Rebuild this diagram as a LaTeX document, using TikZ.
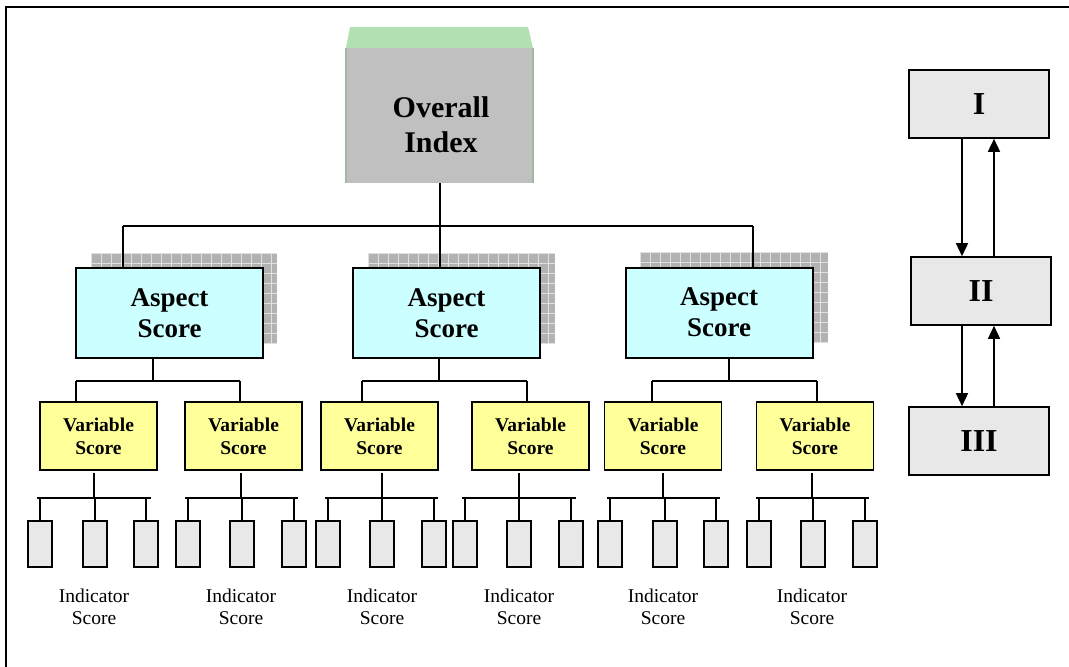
\documentclass[tikz,border=0pt]{standalone}
\usepackage{fontspec}
\setmainfont{Liberation Serif}
\usetikzlibrary{arrows.meta}
\definecolor{ovgray}{RGB}{192,192,192}
\definecolor{ovgreen}{RGB}{178,224,178}
\definecolor{ovside}{RGB}{160,184,160}
\definecolor{aspfill}{RGB}{204,255,255}
\definecolor{varfill}{RGB}{255,255,153}
\definecolor{indfill}{RGB}{232,232,232}
\definecolor{shfill}{RGB}{178,178,178}
\definecolor{shline}{RGB}{225,225,225}
\newcommand\gridshadow[4]{%
  \begin{scope}
    \clip (#1,#2) rectangle (#3,#4);
    \fill[shfill] (#1,#2) rectangle (#3,#4);
    \foreach \k in {0,10,...,200}{
      \draw[shline,line width=0.8pt] (#1+\k,#2) -- (#1+\k,#4);
    }
    \foreach \k in {0,10,...,100}{
      \draw[shline,line width=0.8pt] (#1,#2+\k) -- (#3,#2+\k);
    }
  \end{scope}}
\begin{document}
\begin{tikzpicture}[x=1pt,y=-1pt,
  conn/.style={line width=2pt},
  aspbox/.style={draw=black,line width=2pt,fill=aspfill,minimum width=187pt,minimum height=90pt,inner sep=0pt,align=center,font=\bfseries\fontsize{27}{31}\selectfont},
  varbox/.style={draw=black,line width=1.6pt,fill=varfill,minimum width=117pt,minimum height=68pt,inner sep=0pt,align=center,font=\bfseries\fontsize{19.5}{23}\selectfont},
  indbox/.style={draw=black,line width=1.6pt,fill=indfill,minimum width=24pt,minimum height=46pt,inner sep=0pt},
  indlabel/.style={align=center,inner sep=0pt,font=\fontsize{19.5}{22.5}\selectfont},
  rbox/.style={draw=black,line width=1.6pt,fill=indfill,minimum width=140pt,minimum height=68pt,inner sep=0pt,font=\bfseries\fontsize{32}{36}\selectfont},
  arr/.style={line width=1.5pt,-{Triangle[length=13pt,width=12pt]}}]
\useasboundingbox (0,0) rectangle (1069,667);
% outer frame (top and left edges)
\draw[line width=2pt] (1069,7) -- (6,7) -- (6,667);

% overall index
\fill[ovgreen] (350,27) -- (528,27) -- (533,48) -- (346,48) -- cycle;
\node[fill=ovgray,minimum width=187pt,minimum height=135pt,inner sep=0pt] (o) at (439.5,115.5) {};
\node[align=center,inner sep=0pt,font=\bfseries\fontsize{30}{35}\selectfont] (ot) at (441,125) {Overall\\Index};
\draw[ovside,line width=1.5pt] (o.north west) -- (o.south west);
\draw[ovside,line width=1.5pt] (o.north east) -- (o.south east);

% shadows
\gridshadow{91}{253}{277}{343}
\gridshadow{368}{253}{555}{343}
\gridshadow{640}{252}{828}{342}

% aspect boxes
\node[aspbox] (a1) at (169.5,313) {Aspect\\Score};
\node[aspbox] (a2) at (446.5,313) {Aspect\\Score};
\node[aspbox] (a3) at (719,312.5) {Aspect\\Score};

% top bus
\coordinate (bL) at (123,226);
\coordinate (bM) at (439.5,226);
\coordinate (bR) at (753,226);
\draw[conn] (o.south) -- (bM);
\draw[conn] (bL) -- (bR);
\draw[conn] (bL) -- (bL |- a1.north);
\draw[conn] (bM) -- (bM |- a2.north);
\draw[conn] (bR) -- (bR |- a3.north);

% variable boxes
\node[varbox] (v1) at (98.5,436) {Variable\\Score};
\node[varbox] (v2) at (243.5,436) {Variable\\Score};
\node[varbox] (v3) at (379.5,436) {Variable\\Score};
\node[varbox] (v4) at (530.5,436) {Variable\\Score};
\node[varbox] (v5) at (663,436) {Variable\\Score};
\node[varbox] (v6) at (815,436) {Variable\\Score};

% aspect -> variable buses
\foreach \a/\d/\l/\r/\vl/\vr in {a1/153/76/240/v1/v2, a2/439/362/527/v3/v4, a3/729/652/817/v5/v6}{
  \coordinate (j\a) at (\d,381);
  \coordinate (jl\a) at (\l,381);
  \coordinate (jr\a) at (\r,381);
  \draw[conn] (\a.south -| j\a) -- (j\a);
  \draw[conn] (jl\a) -- (jr\a);
  \draw[conn] (jl\a) -- (jl\a |- \vl.north);
  \draw[conn] (jr\a) -- (jr\a |- \vr.north);
}

% variable -> indicator groups
\foreach \g/\xv/\hl/\hr/\pa/\pb/\pc in {1/94/37/151/40/95/146, 2/241/185/298/188/242/294, 3/382/325/438/328/382/434, 4/519/462/576/465/519/571, 5/663/607/720/610/665/716, 6/812/756/869/759/813/865}{
  \coordinate (s\g) at (\xv,473);
  \coordinate (h\g) at (\xv,498);
  \coordinate (hl\g) at (\hl,498);
  \coordinate (hr\g) at (\hr,498);
  \draw[conn] (s\g) -- (h\g);
  \draw[conn] (hl\g) -- (hr\g);
  \node[indbox] (i\g a) at (\pa,544) {};
  \node[indbox] (i\g b) at (\pb,544) {};
  \node[indbox] (i\g c) at (\pc,544) {};
  \draw[conn] (i\g a.north |- hl\g) -- (i\g a.north);
  \draw[conn] (i\g b.north |- hl\g) -- (i\g b.north);
  \draw[conn] (i\g c.north |- hl\g) -- (i\g c.north);
  \node[indlabel] (l\g) at (\xv,607) {Indicator\\Score};
}

% right-hand cycle
\node[rbox] (r1) at (979,104) {I};
\node[rbox] (r2) at (981,291) {II};
\node[rbox] (r3) at (979,441) {III};
\draw[arr] (r1.south -| 962,0) -- (r2.north -| 962,0);
\draw[arr] (r2.north -| 994,0) -- (r1.south -| 994,0);
\draw[arr] (r2.south -| 962,0) -- (r3.north -| 962,0);
\draw[arr] (r3.north -| 994,0) -- (r2.south -| 994,0);
\end{tikzpicture}
\end{document}
